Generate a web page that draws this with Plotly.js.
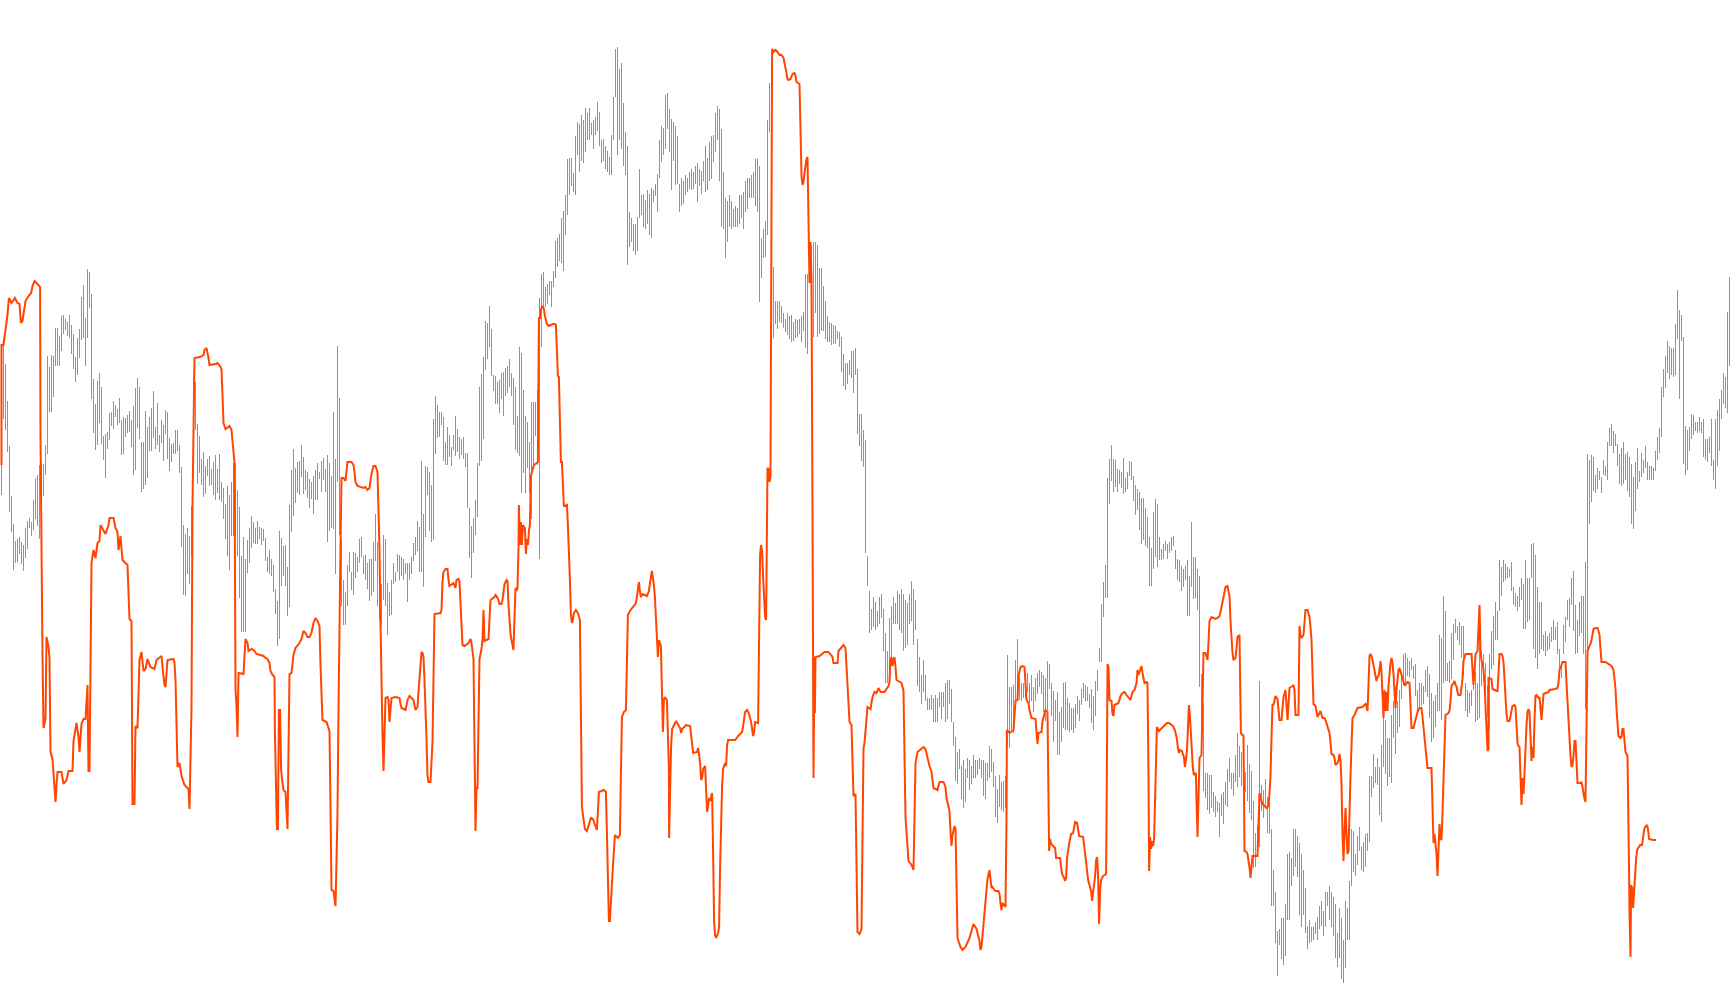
<!DOCTYPE html>
<html><head><meta charset="utf-8">
<script src="https://cdn.plot.ly/plotly-3.0.1.min.js"></script>
<style>html,body{margin:0;padding:0;background:#fff;overflow:hidden}#chart{width:1730px;height:1005px}</style>
</head><body><div id="chart"></div>
<script>
// bar index i = 0..864 ; values are price levels (arbitrary units)
const barHigh = [
594,662,636,599,554,504,476,459,461,463,
458,455,472,479,482,478,500,522,525,535,
537,536,555,644,633,645,644,672,672,664,
684,685,681,678,685,675,666,643,662,671,
703,715,682,731,728,706,621,596,619,627,
613,564,566,568,587,588,599,595,591,602,
580,583,582,585,589,580,594,612,622,613,
558,558,589,573,583,592,609,573,597,565,
580,575,590,588,562,556,557,570,570,555,
533,475,466,472,464,494,625,618,576,564,
541,548,534,541,544,531,538,545,531,546,
518,512,496,514,505,518,537,537,510,493,
444,463,441,460,472,484,478,472,479,473,
472,471,462,443,450,441,435,411,399,469,
462,454,455,433,495,530,551,532,538,539,
555,543,530,528,521,518,524,530,537,528,
539,542,531,545,537,524,588,541,654,602,
461,420,408,435,448,428,448,447,443,461,
463,444,445,437,441,441,458,486,458,451,
416,465,461,417,408,420,437,428,446,445,
443,441,437,437,437,443,457,463,479,473,
539,486,534,533,528,515,581,604,595,588,
588,583,558,573,565,553,565,584,571,563,
561,563,547,547,492,474,482,500,537,613,
626,643,679,677,694,671,625,624,618,620,
627,628,632,634,641,627,622,613,584,653,
647,610,584,578,558,598,598,598,610,702,
726,728,713,716,719,719,729,759,762,766,
782,789,805,841,842,842,827,864,878,876,
885,880,892,887,892,877,880,883,898,888,
860,861,854,849,843,865,903,951,953,931,
937,897,868,854,788,782,776,776,783,831,
805,806,800,810,806,812,810,816,826,860,
874,872,905,907,891,881,878,874,864,816,
822,819,825,822,828,831,828,834,837,831,
829,839,854,842,858,864,865,887,894,891,
871,828,802,799,805,799,791,794,792,805,
805,808,819,822,822,825,828,841,842,834,
762,771,779,880,917,740,733,699,699,699,
694,687,681,687,684,685,678,681,680,681,
684,688,726,726,755,755,758,758,755,732,
732,714,699,684,678,677,675,674,669,668,
663,646,637,637,640,649,649,652,631,586,
586,570,560,444,409,391,403,398,389,403,
406,391,367,349,382,394,403,397,409,406,
411,406,400,397,406,419,411,400,361,343,
325,340,325,302,302,305,302,305,302,308,
308,308,317,320,320,311,278,263,248,251,
234,240,231,242,240,234,245,240,240,242,
240,240,237,237,254,251,238,224,211,225,
218,219,224,345,313,313,315,340,361,324,
317,317,318,327,317,325,313,322,327,330,
328,325,322,339,336,317,309,300,308,288,
293,317,318,302,297,292,292,296,304,300,
311,317,315,313,306,311,304,319,330,352,
396,418,435,522,541,555,541,540,531,530,
528,542,522,528,539,538,524,515,511,508,
502,502,492,483,463,452,488,501,496,463,
451,456,459,456,458,463,464,450,441,440,
434,431,434,440,424,478,443,443,431,424,
326,297,227,227,225,225,208,204,199,197,
206,208,218,231,242,227,227,245,267,254,
248,244,228,255,236,229,199,167,174,319,
215,210,221,203,208,171,130,108,69,71,
82,82,96,146,148,142,171,171,164,157,
146,130,112,74,80,73,73,78,83,94,
99,89,108,108,114,108,103,96,67,92,
82,60,99,92,119,171,169,146,164,173,
153,158,166,167,224,224,246,233,242,233,
255,282,280,262,262,285,299,314,299,310,
325,346,347,342,339,342,334,336,310,317,
317,314,330,334,326,307,299,305,317,365,
362,404,389,337,339,367,376,381,374,378,
374,374,317,310,307,310,324,328,317,367,
349,346,337,314,346,369,384,398,389,440,
433,440,436,433,431,438,413,407,404,413,
422,416,440,422,422,456,457,445,413,398,
398,365,369,364,367,373,380,373,378,351,
338,375,383,400,402,422,429,395,380,398,
404,404,438,546,540,545,543,525,532,529,
523,540,534,558,572,576,569,566,556,546,
552,558,546,548,543,536,523,538,552,529,
547,540,554,538,534,534,532,549,563,572,
613,631,644,659,654,652,652,676,710,690,
685,663,574,570,573,586,585,578,578,583,
578,581,561,561,563,581,540,581,590,601,
610,627,623,688,723];

const barLow = [
505,581,570,548,488,468,430,437,438,446,
436,429,442,451,472,464,470,481,474,461,
503,504,525,546,588,588,603,634,634,634,
649,666,670,664,662,646,631,618,625,642,
660,662,634,662,692,601,567,550,555,577,
556,540,522,551,560,574,571,583,575,577,
545,546,563,567,568,553,525,530,572,561,
508,511,515,522,549,549,562,551,555,548,
557,539,566,541,529,538,546,546,549,527,
453,405,404,426,416,444,577,570,516,527,
515,503,506,524,514,515,505,500,507,500,
498,481,461,444,430,464,464,464,444,402,
368,368,368,427,437,452,457,456,456,461,
455,459,439,428,426,424,408,386,354,361,
414,424,414,384,393,468,484,497,507,505,
523,506,510,502,492,501,486,500,500,521,
508,520,508,458,469,472,471,426,518,465,
394,375,375,394,428,410,405,422,428,437,
443,426,420,411,399,404,408,439,394,380,
375,400,394,365,384,385,416,418,428,420,
424,420,426,398,420,426,439,445,449,428,
428,413,463,505,469,458,460,546,562,563,
575,539,535,535,543,534,550,544,548,541,
545,541,533,492,442,422,447,465,483,534,
539,561,630,641,653,624,609,596,596,587,
601,584,604,607,613,604,575,550,547,544,
507,527,507,532,507,481,535,564,535,441,
653,693,693,696,705,693,713,722,733,739,
737,729,765,785,805,814,808,805,845,828,
839,837,848,860,860,865,851,865,869,854,
837,839,831,828,825,825,860,903,845,860,
851,834,825,735,753,758,749,745,749,782,
785,773,771,776,765,762,798,804,788,822,
838,845,851,871,848,810,839,815,816,788,
794,796,805,808,811,810,811,816,798,814,
806,819,808,810,819,821,838,848,860,819,
773,771,742,758,773,771,773,773,773,776,
782,771,788,791,802,802,802,794,788,698,
722,742,743,765,868,690,662,676,671,678,
677,672,668,665,661,658,659,662,663,666,
658,669,652,646,717,663,663,687,663,666,
669,669,661,658,658,655,656,656,661,653,
628,614,610,616,625,622,607,625,566,554,
539,533,447,414,367,370,373,370,373,376,
382,349,317,317,325,340,376,376,376,370,
367,349,352,355,376,379,355,370,314,308,
296,308,299,290,290,290,278,278,278,293,
281,293,278,281,296,278,254,219,216,231,
201,192,198,222,210,216,222,222,225,231,
222,204,201,219,222,228,213,183,177,193,
190,188,192,254,252,270,267,299,302,300,
299,302,304,308,297,299,288,299,306,313,
306,288,279,290,311,284,258,279,245,245,
258,272,270,270,268,270,267,272,286,279,
295,302,299,299,292,277,270,284,309,338,
338,383,402,402,496,519,508,513,508,516,
512,506,508,511,524,520,499,485,490,470,
456,460,454,452,414,414,431,443,433,440,
440,441,449,441,447,449,454,431,420,418,
409,413,420,384,384,413,401,402,390,313,
250,209,202,190,186,192,188,183,188,163,
184,176,195,193,218,211,204,218,213,223,
214,201,208,199,187,180,132,133,153,153,
189,182,192,167,166,94,94,57,24,55,
41,35,44,80,80,114,124,133,123,85,
73,85,67,51,57,58,60,66,60,71,
74,64,73,94,80,73,64,42,33,42,
21,17,32,60,60,114,128,124,135,149,
130,128,133,149,158,203,212,217,215,185,
178,233,226,214,223,217,262,246,267,273,
301,315,314,324,323,330,321,304,289,292,
294,296,308,303,282,258,262,273,289,289,
280,317,319,319,317,321,340,367,360,355,
342,324,289,283,287,294,310,278,280,282,
314,319,294,283,271,331,335,360,360,389,
404,418,420,422,423,409,395,393,389,393,
400,371,371,378,380,422,351,342,331,346,
351,349,344,349,351,358,360,360,346,326,
322,346,358,380,373,395,369,346,347,364,
367,346,291,349,476,498,509,507,511,520,
507,525,524,520,554,554,547,554,534,516,
514,516,520,509,503,476,471,489,511,518,
523,527,532,520,520,520,520,529,540,547,
563,603,612,627,621,625,623,625,661,601,
659,536,525,530,549,561,565,569,567,569,
567,543,540,538,547,534,520,511,534,549,
581,596,592,587,634];

// indicator line: [bar index, value]
const signalLine = [
[0,535],[0,655],[1,655],[2,668],[3,685],[3.7,702],[5,697],[6.7,702],[8,697],[9,696],[9.7,677],[10.5,679],[11.3,688],[12,699],[13.5,704],[14.8,707],[15.5,714],[16.5,719],[18,716],[19.3,713],[19.5,564],[20,414],[20.5,344],[21,272],[22,281],[22.5,363],[23.5,353],[24,342],[24.5,248],[25.5,241],[26.5,216],[27,198],[27.5,215],[28,228],[30,228],[31,216],[32.5,220],[33.5,229],[35.5,229],[36,259],[37.5,277],[38.5,263],[39,248],[40,276],[41,281],[42,281],[43,315],[43.5,229],[44,229],[44.5,333],[45,437],[46,450],[47,442],[48,457],[49,459],[49.5,475],[52,466],[53.5,475],[54,482],[56,482],[57,472],[58,468],[58.5,450],[59.5,464],[60,455],[60.5,440],[63,435],[63.5,407],[64,381],[65,379],[65.5,196],[66.5,196],[67,274],[68,272],[68.5,302],[69,340],[70,348],[71,329],[72,331],[73,341],[74.5,333],[76.5,331],[77.5,340],[80,344],[80.5,333],[81.5,315],[82,313],[82.5,327],[83,340],[86,341],[86.5,337],[87,320],[87.5,277],[88,233],[89,237],[90,224],[91.5,215],[93.5,211],[94,191],[94.5,241],[95,292],[95.5,494],[96,594],[96.5,642],[99.2,643],[101,645],[101.5,650],[102.5,652],[103.5,642],[104,635],[107,636],[108,637],[109.5,633],[110,631],[110.5,605],[111,577],[112,571],[114,574],[115,570],[115.5,561],[116,549],[116.5,537],[117,311],[117.5,294],[118,263],[118.5,327],[121,326],[121.5,342],[122,361],[123,357],
[123.5,349],[125,351],[126.5,349],[127.5,346],[129,345],[131,344],[132,342],[133,341],[134,337],[134.5,329],[135.5,325],[136.5,323],[136.7,269],[137.2,220],[137.7,171],[138.2,171],[138.7,290],[139.3,290],[139.8,231],[140.3,220],[141,210],[142,208],[142.5,192],[143,171],[143.5,249],[144,326],[145,327],[145.5,337],[146,345],[147,352],[148,354],[149,357],[150,361],[151,369],[152,367],[153,363],[154,363],[155,367],[156,377],[157,382],[158,379],[159,374],[159.5,335],[160,294],[160.5,280],[162.5,278],[163.5,273],[164,269],[164.5,192],[165,110],[166,109],[166.5,102],[167,94],[167.5,139],[168,188],[168.5,290],[169,394],[169.5,453],[170,522],[171,522],[172,519],[172.5,530],[173,538],[175,538],[176,535],[176.5,528],[177,518],[178,514],[180,513],[181,512],[182,513],[183,510],[184,512],[184.5,520],[185,526],[186,534],[187,534],[188,528],[188.5,488],[189,451],[189.5,377],[190,302],[190.5,265],[191,229],[191.5,265],[192,302],[193,303],[193.5,300],[194,278],[194.5,290],[195,302],[197,303],[199,302],[199.5,296],[200,292],[202,290],[202.5,294],[203,300],[204,304],[205,302],[206,300],[207,290],[208,293],[208.5,308],[209,324],[209.5,337],[210,348],[210.5,347],[211,343],[211.5,320],[212,298],[212.5,261],[213,224],[213.5,218],[214.5,218],[215,237],[215.5,258],[216,322],[216.5,386],[219.5,387],[220,390],[220.5,418],[221,428],[222,431],[223,431],[223.5,420],[224,414],[226,417],[226.5,413],[227,412],[227.5,420],[228.5,421],[229,418],[229.5,397],[230,375],[230.5,355],[231.5,354],[233.5,357],[234.5,361],[235,357],[235.5,349],[236,341],[236.5,255],[237,169],[237.5,212],[238,212],[238.5,278],[239,341],[240,351],[240.5,361],[241,390],[241.5,359],[243.5,361],[244,380],[244.5,400],[246.5,403],[247,405],
[247.5,404],[248.5,400],[249,396],[250,396],[250.5,400],[251,409],[251.5,416],[252.5,420],[253,419],[253.5,395],[254,372],[254.5,366],[255,360],[255.5,353],[256,350],[256.5,383],[257,412],[257.5,409],[258,412],[258.5,452],[258.7,495],[259.2,455],[259.7,478],[260.2,455],[260.7,475],[261.7,472],[262.2,446],[262.7,461],[263.2,455],[263.7,469],[264.2,475],[264.7,524],[265.2,528],[266.2,535],[268.2,538],[268.7,682],[269.2,682],[269.7,691],[270.7,694],[271.2,691],[271.7,684],[272.2,679],[272.7,676],[273.7,674],[275.7,676],[276.7,676],[277.2,675],[277.7,650],[278.2,624],[278.7,623],[279.2,582],[279.7,538],[280.2,538],[280.7,518],[281.2,494],[282.2,494],[282.7,496],[283.2,475],[283.7,452],[284.2,420],[284.7,386],[285.2,377],[285.7,380],[286.2,387],[287.2,390],[288.2,387],[289.2,380],[289.7,288],[290.2,194],[290.7,185],[291.2,179],[291.7,171],[292.7,169],[293.7,176],[294.7,182],[295.7,181],[296.7,176],[297.7,170],[298.2,188],[298.7,208],[301.2,210],[302.2,208],[302.7,168],[303.2,110],[303.7,79],[304.2,79],[304.7,93],[305.2,116],[305.7,133],[306.2,151],[306.7,165],[308.2,162],[309.2,165],[309.7,225],[310.2,283],[311.2,288],[312.2,290],[312.7,337],[313.2,385],[314.2,389],[315.2,392],[316.2,395],[317.2,397],[317.7,403],[318.2,409],[318.7,418],[319.2,409],[319.7,403],[320.7,406],[322.7,404],[323.7,409],[324.2,418],[324.7,423],[325.2,429],[325.7,423],[326.2,415],[326.7,403],[327.2,386],[327.7,363],[328.2,343],[328.7,360],[329.7,354],[330.2,311],[330.7,268],[331.2,300],[331.7,303],[332.7,300],[333.2,271],[333.7,231],[333.8,162],[334.3,214],[334.8,254],[335.3,271],[337.3,279],[339.3,272],[339.8,267],[340.3,271],[342.3,275],[344.3,274],[344.8,265],[345.3,257],[345.8,247],[347.8,248],[348.3,252],[348.8,245],[349.3,237],[349.8,220],[350.3,222],[350.8,231],[351.8,234],[352.3,211],[352.8,188],[353.3,194],[353.8,202],[354.3,199],[355.3,207],[355.8,148],[356.3,79],[356.8,65],[357.3,62],[358.3,67],[358.8,73],[359.3,133],[359.8,197],[360.3,214],[360.8,231],[361.8,237],[362.3,234],[362.8,255],[363.3,260],[366.8,260],[368.8,265],[370.3,268],[370.8,274],[371.3,283],[371.8,288],[372.8,290],[373.8,286],[374.8,278],[375.3,272],[375.8,264],[376.3,268],[376.8,278],[378.3,277],[378.8,360],[379.3,446],[379.8,455],[380.3,449],[380.8,423],[381.3,392],[381.8,383],[382.3,380],[382.8,455],[383,532],[383.5,531],[384,518],[384.5,524],[384.8,730],[385.3,951],[386,948],
[387,950],[388,948],[389,945],[390,945],[391,942],[391.5,937],[392,933],[392.5,927],[393,921],[393.5,920],[394.5,921],[395.5,926],[396.5,927],[397,924],[397.5,918],[398,917],[399,916],[399.5,871],[400,824],[400.5,815],[401,818],[401.5,827],[402,835],[402.5,841],[403,843],[403.5,782],[404,717],[404.5,758],[405,720],[405.5,489],[406,222],[406.5,343],[406.7,287],[407,343],[409,344],[411.5,348],[413.5,348],[415.5,343],[416,337],[418,337],[418.5,349],[421,355],[422,352],[422.5,334],[423,314],[423.5,296],[424,278],[425,275],[425.5,237],[426,204],[427,206],[427.5,136],[428,68],[429,66],[430,71],[430.5,162],[431,251],[431.5,257],[432,269],[432.5,284],[433,293],[434.5,291],[435,296],[435.5,303],[436.5,308],[437.5,307],[438.5,312],[439.5,308],[441.5,308],[443.5,314],[444,318],[444.5,340],[445,343],[445.5,334],[446,340],[446.5,343],[447,333],[447.5,320],[450,317],[451,309],[451.5,245],[452,183],[452.5,168],[453,154],[453.5,139],[455,135],[456,130],[456.5,183],[457,237],[458,248],[461,253],[462,251],[463,242],[464,234],[465,228],[465.5,219],[466,212],[468,210],[469,218],[471,218],[472,213],[472.5,202],[473.5,195],[474,189],[474.5,168],[475,154],[475.5,165],[476.5,174],[477,171],[477.5,118],[478,62],[479.5,53],[480.5,50],[482,53],[484,62],[486,76],[487.5,71],[489,59],[489.5,50],[490,53],[490.5,65],[491.5,85],[492,106],[493,121],[494,130],[494.5,121],[495,112],
[495.5,113],[497,109],[498.5,109],[499,106],[499.5,97],[500,90],[500.5,97],[501.5,95],[502,93],[502.5,181],[502.7,270],[504,267],[505,269],[506,270],[506.5,284],[507,299],[508,300],[508.5,324],[509.5,333],[510.5,334],[511.5,333],[512,313],[512.5,300],[513.5,297],[514,290],[515,282],[517,281],[517.5,268],[518,256],[518.5,267],[520,268],[520.5,279],[521.5,286],[522,290],[523,288],[523.5,218],[523.8,149],[524.3,161],[524.8,156],[525.8,154],[526.8,152],[527.3,142],[529.3,142],[529.8,133],[530.3,126],[531.3,122],[531.8,119],[532.3,122],[532.8,143],[533.8,156],[534.8,166],[535.8,167],[536.8,178],[537.8,177],[538.3,170],[538.8,164],[540.8,163],[541.3,156],[542.3,138],[543.3,120],[544.3,113],[544.8,109],[545.3,99],[545.8,106],[546.3,113],[546.8,124],[547.3,140],[547.8,143],[548.3,124],[548.8,76],[549.3,109],[549.8,120],[550.8,124],[552.3,126],[552.7,231],[553,336],[553.5,333],[554,300],[555,299],[555.5,286],[556,284],[556.5,295],[558.5,297],[559.5,304],[560.5,307],[561.5,308],[562.5,305],[563.5,302],[564.5,300],[565.5,308],[566.5,310],[567.5,317],[568,330],[568.5,325],[569,328],[569.5,333],[570,334],[570.5,327],[571,320],[571.5,317],[572.5,318],[573,317],[573.5,224],[573.8,129],[574.3,163],[574.8,151],[575.3,159],[575.8,154],[576.3,161],[576.7,188],[577,226],[577.3,249],[577.7,273],[578.7,269],[580.2,272],[581.7,275],[582.7,277],[583.7,277],[585.7,274],[586.7,270],[587.2,265],[587.7,261],[588.2,252],[588.7,247],[589.2,250],[590.2,249],[591.2,243],[591.7,233],[592.2,240],[592.7,249],[593.2,270],[593.7,295],[594.2,284],[594.7,267],[595.2,242],[595.7,231],[596.2,225],[597.2,227],[597.5,199],[598,163],[598.5,202],[599,242],[600,245],[600.5,284],[601,347],[602,347],[603,340],[603.5,358],[604,379],[605,383],[607,381],[608,382],[609,384],[609.5,388],[610,393],[610.5,398],[611,402],[611.5,408],[612,413],[613,414],[613.5,409],[614,404],[614.5,379],[615,357],[615.5,347],[616,340],[617,342],[617.5,352],[618,363],[619,365],
[619.7,267],[621,264],[621.5,149],[622.5,148],[623,146],[623.5,139],[624,133],[624.5,122],[625,132],[625.5,144],[628,144],[628.5,176],[629,207],[630,199],[630.5,196],[632.5,192],[633.5,194],[634,207],[634.5,224],[635,262],[635.5,296],[636,295],[637,304],[638,301],[638.5,290],[639,280],[640,280],[640.5,290],[641,303],[642,310],[642.5,296],[643,280],[643.5,296],[644,312],[645.5,314],[646,315],[646.5,310],[647,285],[648.5,285],[648.7,330],[649,374],[649.5,365],[650,362],[651,365],[651.5,377],[652,390],[653,390],[653.5,387],[654,383],[654.5,373],[655,360],[655.5,328],[656,296],[657,294],[657.5,289],[658,283],[659,287],[659.5,289],[660.5,282],[661.5,282],[662,280],[662.5,276],[663.5,271],[664,267],[664.5,257],[665,246],[666,245],[666.5,242],[667,235],[668,237],[668.5,240],[669,246],[669.5,239],[670,217],[670.5,166],[671,139],[671.5,167],[672,192],[672.5,167],[673,146],[673.5,149],[674,199],[674.5,224],[675,253],[675.5,282],[676.5,285],[677.5,289],[678,292],[680.5,293],[681.5,295],[682,296],[682.5,294],[683,289],[683.5,315],[684,344],[684.5,346],[685,344],[685.5,340],[686,335],[686.5,332],[687,326],[687.5,319],[688,323],[688.5,324],[689,330],[689.5,339],[690,328],[690.5,310],[691,282],[691.5,310],[692,289],[692.5,308],[693,289],[693.5,314],[694,332],[694.5,337],[695,342],[695.5,337],[696,326],[696.5,308],[697,292],[697.5,310],[698,324],[698.5,330],[699,332],[700,324],[701,319],[701.5,315],[702,315],[703,318],[704,317],[704.5,294],[705,272],[706,272],[706.5,276],[707,282],[708,288],[709,292],[710,292],[710.5,283],[711,274],[711.5,264],[712,253],[712.5,242],[713,232],[715,232],[715.5,194],[716,157],[716.5,166],[717,157],[717.5,146],[718,124],[718.5,149],[719,176],[719.5,162],[720,160],[720.5,187],[721,215],[721.5,249],[722,285],[723.5,287],[724,289],[724.5,299],[725,314],[726,317],[726.5,319],[727,315],[727.5,314],[728,308],[728.5,305],[729.5,305],[730,312],[730.5,321],[731,339],[732,346],[735,346],[735.5,332],[736,315],[736.5,328],[737,346],[738,349],[738.5,371],[739,395],[739.5,348],[740,339],[740.5,337],[741,330],[741.5,317],[742,294],[742.5,271],[743,249],
[743.5,251],[743.5,322],[745,321],[745.5,311],[747.5,309],[748,309],[748.5,326],[749,346],[750,346],[750.5,344],[751,338],[751.5,316],[752,295],[752.5,286],[753,279],[754,279],[754.5,284],[755,292],[755.5,294],[756.5,295],[757,293],[757.5,275],[758,257],[758.5,254],[759,253],[759.5,224],[760,195],[760.5,222],[761,206],[761.5,226],[762,255],[762.5,275],[763,288],[763.5,291],[764,288],[764.5,264],[765,239],[765.5,253],[766,242],[766.5,280],[767,304],[767.5,305],[768.5,302],[769,303],[769.5,288],[770,280],[770.5,293],[771,306],[773.5,308],[774,310],[777,311],[778,312],[778.5,317],[779,330],[780,335],[780.5,338],[781.5,338],[782,338],[782.5,317],[783,295],[783.5,275],[784,257],[784.5,244],[785,233],[785.5,235],[786,244],[786.5,259],[787,259],[787.5,239],[788,217],[789.5,217],[790,218],[790.5,213],[791,206],[791.5,201],[792,198],[792.5,273],[793,349],[794,354],[794.5,356],[795,360],[795.5,365],[796,371],[797,372],[798,372],[798.5,369],[799,365],[799.5,351],[800,338],[802,338],[804,335],[805,334],[805.5,332],[806,330],[806.5,321],[807,311],[807.5,291],[808,271],[808.5,264],[809.5,262],[810,263],[810.5,271],[811,271],[811.5,259],[812,248],[813,244],[813.5,195],[813.7,141],[814,88],[814.5,43],[814.8,115],[815.3,112],[815.8,92],[816.3,112],[816.8,123],[817.3,141],[817.8,150],[818.3,152],[819.3,155],[820.3,155],[820.8,166],[821.3,170],[821.8,173],[822.8,175],[823.3,170],[823.8,161],[825.8,160],[827.3,160]
];

const barX = [], barY = [];
barHigh.forEach((h, i) => { barX.push(i, i, null); barY.push(barLow[i], h, null); });

const traces = [
  {type:'scatter', mode:'lines', x:barX, y:barY, connectgaps:false,
   line:{color:'#1ee61e', width:1}, hoverinfo:'skip'},
  {type:'scatter', mode:'lines', x:signalLine.map(p=>p[0]), y:signalLine.map(p=>p[1]),
   line:{color:'#ff4500', width:2}, hoverinfo:'skip'}
];

const layout = {
  width:1730, height:1005,
  margin:{l:0, r:0, t:0, b:0, pad:0},
  paper_bgcolor:'#ffffff', plot_bgcolor:'#ffffff',
  showlegend:false,
  xaxis:{range:[-0.75, 864.25], visible:false, showgrid:false, zeroline:false, fixedrange:true},
  yaxis:{range:[-5, 1000], visible:false, showgrid:false, zeroline:false, fixedrange:true}
};

Plotly.newPlot('chart', traces, layout, {displayModeBar:false, staticPlot:true}).then(gd => {
  const first = gd.querySelector('.scatterlayer .trace path.js-line');
  if (first) first.style.shapeRendering = 'crispEdges';
});
</script>
</body></html>
